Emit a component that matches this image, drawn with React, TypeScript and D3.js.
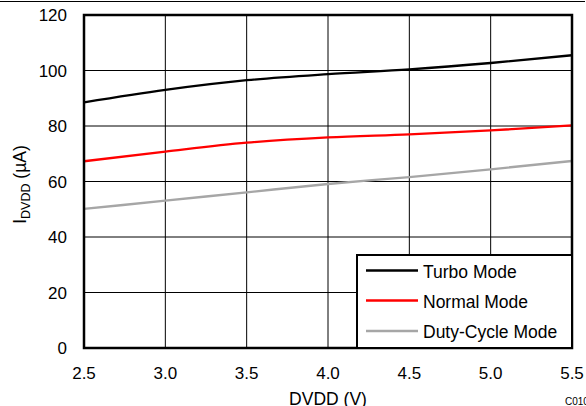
import React from "react";
import * as d3 from "d3";

const xValues = [2.5, 3.0, 3.5, 4.0, 4.5, 5.0, 5.5];
const turbo = [88.5, 93.0, 96.5, 98.7, 100.4, 102.7, 105.5];
const normal = [67.3, 70.8, 74.0, 75.9, 77.0, 78.4, 80.2];
const dutyCycle = [50.1, 53.1, 56.1, 59.1, 61.6, 64.4, 67.4];
const xTicks = [2.5, 3.0, 3.5, 4.0, 4.5, 5.0, 5.5];
const yTicks = [0, 20, 40, 60, 80, 100, 120];
const seriesNames = ["Turbo Mode", "Normal Mode", "Duty-Cycle Mode"];
const seriesColors = ["#000000", "#ff0000", "#a6a6a6"];

const W = 586;
const H = 406;
const L = 84, R = 572, T = 15, B = 348;

export default function App() {
  const x = d3.scaleLinear().domain([2.5, 5.5]).range([L, R]);
  const y = d3.scaleLinear().domain([0, 120]).range([B, T]);
  const line = d3
    .line<number>()
    .x((_, i) => x(xValues[i]))
    .y((d) => y(d))
    .curve(d3.curveMonotoneX);
  const series = [turbo, normal, dutyCycle];
  const font = "'Liberation Sans', Arial, sans-serif";
  const legX = 357, legY = 255, legW = R - 357, legH = B - 255;
  const rowY = [270.5, 300.5, 331];

  return (
    <svg
      width={W}
      height={H}
      style={{ position: "absolute", left: 0, top: 0, background: "#fff" }}
      fontFamily={font}
    >
      <line x1={0} x2={585} y1={1.5} y2={1.5} stroke="#000" strokeWidth={1.2} />
      {/* grid */}
      {xTicks.map((t) => (
        <line key={"gx" + t} x1={x(t)} x2={x(t)} y1={T} y2={B} stroke="#000" strokeWidth={1} />
      ))}
      {yTicks.map((t) => (
        <line key={"gy" + t} x1={L} x2={R} y1={y(t)} y2={y(t)} stroke="#000" strokeWidth={1} />
      ))}
      {/* series */}
      {series.map((s, i) => (
        <path key={i} d={line(s) || ""} fill="none" stroke={seriesColors[i]} strokeWidth={2.3} />
      ))}
      {/* frame */}
      <rect x={L} y={T} width={R - L} height={B - T} fill="none" stroke="#000" strokeWidth={2.5} />
      {/* ticks labels */}
      {yTicks.map((t) => (
        <text key={"yl" + t} x={67} y={y(t) + 6} textAnchor="end" fontSize={17} fill="#000">
          {t}
        </text>
      ))}
      {xTicks.map((t) => (
        <text key={"xl" + t} x={x(t)} y={378.5} textAnchor="middle" fontSize={17} fill="#000">
          {t.toFixed(1)}
        </text>
      ))}
      {/* axis titles */}
      <text x={328} y={405} textAnchor="middle" fontSize={17.5} fill="#000">
        DVDD (V)
      </text>
      <text transform={`translate(26,${(T + B) / 2 + 3}) rotate(-90)`} textAnchor="middle" fontSize={17.5} fill="#000">
        I<tspan fontSize={12.5} dy={4}>DVDD</tspan>
        <tspan dy={-4}> (µA)</tspan>
      </text>
      <text x={565} y={405} fontSize={10} fill="#000">
        C010
      </text>
      {/* legend */}
      <rect x={legX} y={legY} width={legW} height={legH} fill="#fff" stroke="#000" strokeWidth={2} />
      {seriesNames.map((n, i) => (
        <g key={n}>
          <line x1={366} x2={418} y1={rowY[i]} y2={rowY[i]} stroke={seriesColors[i]} strokeWidth={2.3} />
          <text x={423} y={rowY[i] + 7} fontSize={17.5} fill="#000">
            {n}
          </text>
        </g>
      ))}
    </svg>
  );
}
